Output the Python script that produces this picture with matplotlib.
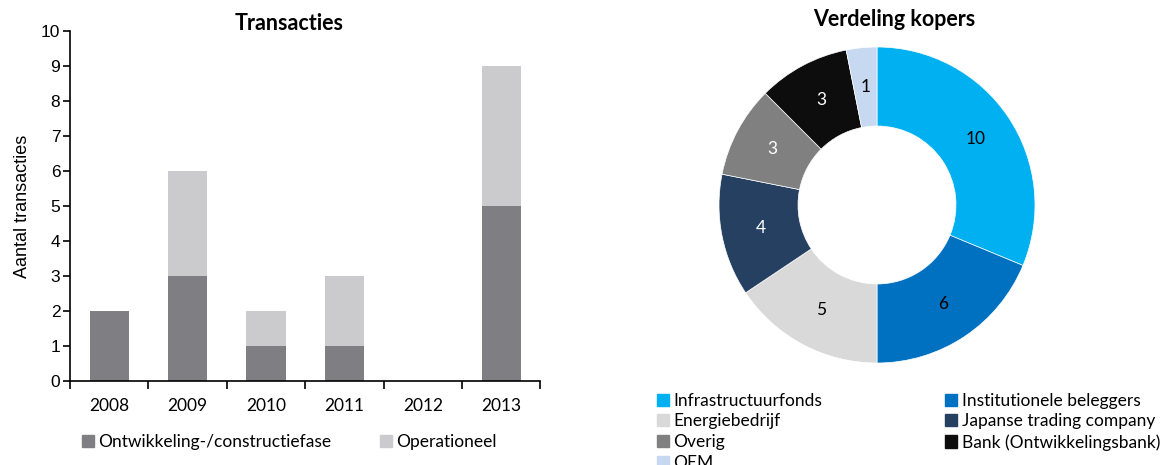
import numpy as np
import matplotlib.pyplot as plt
from matplotlib.patches import Patch

# Transactions per year, split by project phase
years = ['2008', '2009', '2010', '2011', '2012', '2013']
ontwikkeling = [2, 3, 1, 1, 0, 5]
operationeel = [0, 3, 1, 2, 0, 4]

# Buyer breakdown (clockwise from the top)
kopers = ['Infrastructuurfonds', 'Institutionele beleggers', 'Energiebedrijf',
          'Japanse trading company', 'Overig', 'Bank (Ontwikkelingsbank)', 'OEM']
aantallen = [10, 6, 5, 4, 3, 3, 1]
kleuren = ['#00B0F0', '#0070C0', '#D9D9D9', '#254061', '#808080', '#0D0D0D', '#C6D9F1']
tekstkleuren = ['black', 'black', 'black', 'white', 'white', 'white', 'black']

BODY = ['Lato', 'DejaVu Sans']
ARIAL = ['Liberation Sans', 'DejaVu Sans']

fig = plt.figure(figsize=(11.67, 4.65), dpi=100)

# --- stacked bar chart ---
ax = fig.add_axes([0.060, 0.181, 0.403, 0.752])
x = np.arange(len(years))
ax.bar(x, ontwikkeling, width=0.5, color='#7F7E83', label='Ontwikkeling-/constructiefase')
ax.bar(x, operationeel, width=0.5, bottom=ontwikkeling, color='#CBCBCD', label='Operationeel')
ax.set_xlim(-0.5, len(years) - 0.5)
ax.set_ylim(0, 10)
ax.set_yticks(range(0, 11))
for lbl in ax.get_yticklabels():
    lbl.set_family(ARIAL)
    lbl.set_fontsize(12.5)
ax.set_xticks(x)
ax.set_xticklabels(years, family=BODY, fontsize=12.5)
ax.set_xticks(np.arange(-0.5, len(years)), minor=True)
ax.tick_params(axis='x', which='major', length=0, pad=12)
ax.tick_params(axis='x', which='minor', length=6, width=1.2, direction='out')
ax.tick_params(axis='y', length=5, width=1.2, direction='out', pad=2)
for side in ('top', 'right'):
    ax.spines[side].set_visible(False)
for side in ('left', 'bottom'):
    ax.spines[side].set_linewidth(1.2)
ax.set_ylabel('Aantal transacties', family=ARIAL, fontsize=13, labelpad=7)
fig.text(289 / 1167, 1 - 23 / 465, 'Transacties', ha='center', va='center',
         family=BODY, fontsize=15.5, fontweight='bold')

bar_handles = [Patch(color='#7F7E83'), Patch(color='#CBCBCD')]
fig.legend(bar_handles, ['Ontwikkeling-/constructiefase', 'Operationeel'],
           loc='center left', bbox_to_anchor=(66 / 1167, 1 - 442 / 465), ncol=2,
           frameon=False, prop={'family': BODY, 'size': 12.5},
           handlelength=0.7, handleheight=0.7, handletextpad=0.25, columnspacing=2.8)

# --- donut chart ---
pax = fig.add_axes([(877 - 158) / 1167, 1 - 363 / 465, 316 / 1167, 316 / 465])
wedges, _ = pax.pie(aantallen, colors=kleuren, startangle=90, counterclock=False,
                    radius=1.0, wedgeprops=dict(width=0.5, edgecolor='white', linewidth=0.5))
totaal = sum(aantallen)
hoek = 90.0
for n, kleur in zip(aantallen, tekstkleuren):
    mid = np.deg2rad(hoek - 360.0 * n / totaal / 2)
    pax.text(0.75 * np.cos(mid), 0.75 * np.sin(mid), str(n), ha='center', va='center',
             color=kleur, family=BODY, fontsize=12.5)
    hoek -= 360.0 * n / totaal
pax.set_xlim(-1, 1)
pax.set_ylim(-1, 1)
pax.set_aspect('equal')
fig.text(894 / 1167, 1 - 19 / 465, 'Verdeling kopers', ha='center', va='center',
         family=BODY, fontsize=15.5, fontweight='bold')

# legend filled column-wise: left column gets the 1st, 3rd, 5th, 7th entries
volgorde = [0, 2, 4, 6, 1, 3, 5]
pie_handles = [Patch(color=kleuren[i]) for i in volgorde]
pie_labels = [kopers[i] for i in volgorde]
fig.legend(pie_handles, pie_labels, loc='upper left',
           bbox_to_anchor=(648 / 1167, 1 - 384 / 465), ncol=2, frameon=False,
           prop={'family': BODY, 'size': 12.5}, handlelength=0.7, handleheight=0.7,
           handletextpad=0.25, labelspacing=0.27, columnspacing=7.1, borderpad=0)

fig.savefig('out.png', dpi=100)
